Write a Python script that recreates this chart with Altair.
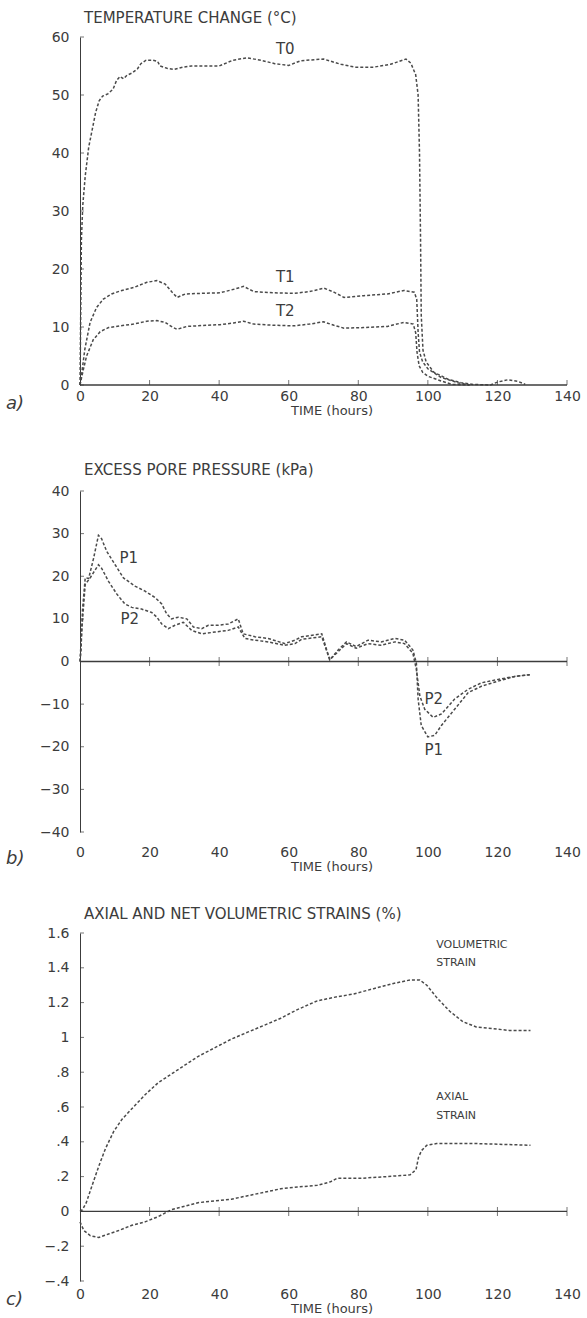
import altair as alt
import pandas as pd

FONT = "DejaVu Sans"
INK = "#3c3c3c"
LINE = "#4a4a4a"

X_TICKS = [0, 20, 40, 60, 80, 100, 120, 140]

# ---------------- panel a: temperature change ----------------
T0_x = [0, 0.2, 0.4, 0.8, 1.5, 2.5, 3.5, 4.5, 5.5, 6.5, 8, 9.5, 10.5, 11.5, 12.5, 13.5, 15, 16.5, 17.5, 19,
        21, 22.3, 23, 25, 27, 29.5, 32, 36, 40, 44, 48, 52, 56, 60, 63.4, 70, 75, 79, 84.4, 89.3, 93.7,
        95.1, 96.5, 97.2, 97.6, 97.9, 98.1, 98.6, 99.5, 101.7, 105.8, 109.5, 113, 118, 120, 123, 126, 128]
T0_y = [0, 12, 25, 31, 36, 41, 44, 47, 49, 49.8, 50.2, 51, 52.5, 53.2, 52.8, 53.4, 53.8, 54.5, 55.4, 56,
        56, 55.8, 55, 54.6, 54.4, 54.8, 55, 55, 55, 56, 56.4, 56, 55.4, 55.1, 55.9, 56.2, 55.3, 54.8, 54.8, 55.3, 56.2,
        55.5, 53.5, 50, 40, 25, 12, 6, 4, 2.2, 1, 0.4, 0.1, 0, 0.5, 0.9, 0.6, 0.1]

T1_x = [0, 0.5, 1.4, 2.9, 4.8, 6.7, 9.1, 11.5, 15.4, 19.2, 22.1, 24.5, 26.5, 27.9, 30.3, 34.6, 40.3, 44.2, 47,
        50, 55.7, 61.4, 66, 70.1, 73, 75.9, 81.6, 88.4, 93.1, 96.1, 96.8, 97.2, 97.6, 98.5, 100, 103.8, 108.6, 112]
T1_y = [0, 2, 6.2, 10.8, 13.4, 14.8, 15.7, 16.2, 16.8, 17.7, 18, 17.4, 16, 15.1, 15.7, 15.8, 15.9, 16.5, 17,
        16.1, 15.9, 15.8, 16.1, 16.7, 16, 15.1, 15.4, 15.7, 16.3, 16, 14.8, 9.1, 5.7, 4, 2.8, 1.3, 0.4, 0]

T2_x = [0, 0.9, 1.9, 3.8, 5.8, 8.2, 11.5, 15.4, 19.2, 22.1, 24.5, 26.5, 27.9, 30.7, 36.5, 40.3, 44.2, 47, 50,
        55.7, 61.4, 66, 70, 73, 75.9, 81.6, 88.4, 93.1, 95.8, 96.5, 96.9, 97.5, 98.5, 100, 103.8, 107, 112]
T2_y = [0, 2.5, 5, 7.8, 9.2, 9.9, 10.2, 10.5, 11, 11.1, 10.8, 10, 9.6, 10.1, 10.3, 10.4, 10.7, 11, 10.5,
        10.3, 10.2, 10.5, 10.9, 10.3, 9.8, 9.9, 10.1, 10.8, 10.5, 9, 5.6, 3.3, 2.2, 1.5, 0.7, 0.1, 0]

A_LABELS = ["T0", "T1", "T2"]
A_LABEL_X = [59, 59, 59]
A_LABEL_Y = [58, 18.6, 12.8]
A_YTICKS = [0, 10, 20, 30, 40, 50, 60]

# ---------------- panel b: excess pore pressure ----------------
P1_x = [0, 0.3, 0.7, 1.5, 2.5, 3.9, 5.3, 6.2, 7.7, 10.1, 12.5, 15.8, 18.7, 21.6, 23.5, 24.9, 26.3, 28.3, 30.7,
        32.6, 35, 36.9, 39.8, 42.6, 45.5, 46.9, 50.3, 54.1, 58.9, 61.8, 63.7, 69.5, 71.8, 74.2, 76.6, 79.4,
        82.8, 86.6, 90.5, 93.3, 95.7, 96.7, 97.2, 98.1, 100, 102, 103.9, 107.7, 111.6, 115.4, 120.2, 125, 129.3]
P1_y = [0, 2.7, 11.9, 19.6, 19.5, 24.2, 29.6, 28.8, 25.8, 22.7, 19.6, 17.7, 16.5, 15, 13.5, 11.2, 10, 10.4, 10,
        8.1, 7.7, 8.5, 8.5, 8.8, 10, 6.5, 5.8, 5.4, 4.2, 5, 5.8, 6.5, 0.4, 2.7, 4.6, 3.5,
        5, 4.6, 5.4, 5, 2.7, -0.4, -8.8, -15, -17.7, -17.3, -15, -11.2, -7.3, -5.8, -4.6, -3.5, -3.1]

P2_x = [0, 0.5, 1.5, 2.9, 5.3, 6.2, 8.2, 10.6, 12.9, 14.9, 17.7, 20.6, 22.1, 23.5, 25.4, 27.3, 29.7, 32.1, 35,
        38.8, 42.6, 45.5, 47.4, 50.3, 54.1, 58.9, 61.8, 63.7, 69.5, 71.8, 74.2, 76.6, 79.4, 82.8, 86.6, 90.5,
        93.3, 95.7, 96.7, 97.7, 99.1, 101.5, 103.9, 107.7, 111.6, 115.4, 120.2, 125, 129.3]
P2_y = [0, 7.3, 18.1, 19.6, 22.7, 21.9, 18.8, 15.8, 13.5, 12.7, 12.3, 11.5, 10.4, 8.8, 7.7, 8.5, 9.2, 7.3, 6.5,
        6.9, 7.3, 8.1, 5.4, 5, 4.6, 3.8, 4.2, 5.2, 5.8, 0.4, 2.3, 4.2, 3.1, 4.2, 3.8, 4.6,
        4.2, 1.9, -1.9, -8.1, -11.2, -13.1, -12.3, -8.8, -6.5, -5, -4.2, -3.5, -3.1]

B_LABELS = ["P1", "P2", "P2", "P1"]
B_LABEL_X = [14, 14.3, 101.7, 101.7]
B_LABEL_Y = [24.2, 9.9, -8.8, -20.8]
B_YTICKS = [-40, -30, -20, -10, 0, 10, 20, 30, 40]

# ---------------- panel c: strains ----------------
VOL_x = [0, 0.7, 1.8, 3.5, 5.4, 7.3, 9.7, 12.1, 14.9, 18.7, 22.5, 26.3, 30.1, 33.9, 38.7, 43.5, 48.2, 53, 57.7,
         62.5, 68.2, 73, 78.7, 84.4, 90.1, 94.9, 97.7, 99.7, 102.5, 106.3, 110.1, 113.9, 118.7, 123.4, 129.5]
VOL_y = [0, 0.01, 0.05, 0.15, 0.26, 0.36, 0.46, 0.53, 0.59, 0.67, 0.74, 0.79, 0.84, 0.89, 0.94, 0.99, 1.03, 1.07, 1.11,
         1.16, 1.21, 1.23, 1.25, 1.28, 1.31, 1.33, 1.33, 1.30, 1.23, 1.15, 1.09, 1.06, 1.05, 1.04, 1.04]

AX_x = [0, 1.1, 3, 5.4, 8.2, 11.1, 14.9, 18.7, 22.5, 26.3, 30.1, 33.9, 38.7, 43.5, 48.2, 53, 57.7, 62.5, 68.2,
        72, 73.9, 80.6, 88.2, 94.9, 96.6, 97.3, 98.2, 99.7, 102.5, 113.9, 129.5]
AX_y = [-0.06, -0.11, -0.14, -0.15, -0.13, -0.11, -0.08, -0.06, -0.03, 0.01, 0.03, 0.05, 0.06, 0.07, 0.09, 0.11, 0.13, 0.14, 0.15,
        0.17, 0.19, 0.19, 0.2, 0.21, 0.24, 0.31, 0.35, 0.38, 0.39, 0.39, 0.38]

C_LABELS = ["VOLUMETRIC", "STRAIN", "AXIAL", "STRAIN"]
C_LABEL_X = [102.4, 102.4, 102.4, 102.4]
C_LABEL_Y = [1.53, 1.43, 0.66, 0.55]
C_YTICKS = [-0.4, -0.2, 0, 0.2, 0.4, 0.6, 0.8, 1.0, 1.2, 1.4, 1.6]

W = 487


def long_df(series):
    rows = []
    for name, xs, ys in series:
        for x, y in zip(xs, ys):
            rows.append({"s": name, "x": x, "y": y})
    return pd.DataFrame(rows)


def panel(series, ydom, yticks, ylabelexpr, title, height, lab_txt, lab_x, lab_y, lab_size,
          letter, letter_dy, label_pad, title_pad, cross, title_offset):
    xs = alt.Scale(domain=[0, 140], nice=False, zero=False)
    ys = alt.Scale(domain=ydom, nice=False, zero=False)
    xaxis = alt.Axis(values=X_TICKS, domain=False, ticks=False, grid=False, labelFontSize=14,
                     labelColor=INK, labelPadding=label_pad, title="TIME (hours)", titleFontSize=13,
                     titleFontWeight="normal", titleColor=INK, titlePadding=title_pad, labelFlush=False,
                     titleX=W / 2 + 8)
    yaxis_kw = dict(values=yticks, domain=True, domainColor=INK, ticks=False, grid=False, labelFontSize=14,
                    labelColor=INK, labelPadding=11, title=None, minExtent=58, maxExtent=58)
    if ylabelexpr:
        yaxis_kw["labelExpr"] = ylabelexpr
    yaxis = alt.Axis(**yaxis_kw)

    X = alt.X("x:Q", scale=xs, axis=xaxis)
    Y = alt.Y("y:Q", scale=ys, axis=yaxis)

    lines = alt.Chart(long_df(series)).mark_line(
        color=LINE, strokeDash=[3, 2], strokeWidth=1.5
    ).encode(x=X, y=Y, detail="s:N")

    zero = alt.Chart(pd.DataFrame({"x": [0], "x2": [140], "y": [0]})).mark_rule(
        color=INK, strokeWidth=1.3
    ).encode(x=X, x2="x2:Q", y=Y)

    xt = pd.DataFrame({"x": X_TICKS[1:], "y": [0] * (len(X_TICKS) - 1)})
    if cross:
        xtick = alt.Chart(xt).mark_tick(orient="vertical", size=9, thickness=1, color=INK).encode(x=X, y=Y)
    else:
        xtick = alt.Chart(xt).mark_tick(orient="vertical", size=5, thickness=1, color=INK, yOffset=-2.5).encode(x=X, y=Y)

    yt = pd.DataFrame({"x": [0] * len(yticks), "y": yticks})
    ytick = alt.Chart(yt).mark_tick(orient="horizontal", size=4, thickness=1, color=INK, xOffset=2).encode(x=X, y=Y)

    labs = alt.Chart(pd.DataFrame({"x": lab_x, "y": lab_y, "t": lab_txt})).mark_text(
        fontSize=lab_size, color=INK, align="center" if lab_size > 12 else "left", baseline="middle"
    ).encode(x=X, y=Y, text="t:N")

    let = alt.Chart(pd.DataFrame({"t": [letter]})).mark_text(
        fontSize=18, fontStyle="italic", color=INK, align="left", baseline="middle"
    ).encode(text="t:N", x=alt.value(-74), y=alt.value(height + letter_dy))

    return alt.layer(lines, zero, xtick, ytick, labs, let).properties(
        width=W, height=height,
        title=alt.TitleParams(title, anchor="start", fontSize=15, fontWeight="normal", color=INK,
                              dx=4, offset=title_offset, frame="group"),
    )


pa = panel([("T0", T0_x, T0_y), ("T1", T1_x, T1_y), ("T2", T2_x, T2_y)], [0, 60], A_YTICKS, None,
           "TEMPERATURE CHANGE (°C)", 348, A_LABELS, A_LABEL_X, A_LABEL_Y, 15, "a)", 19, 4, 1, False, 4)
pb = panel([("P1", P1_x, P1_y), ("P2", P2_x, P2_y)], [-40, 40], B_YTICKS, None,
           "EXCESS PORE PRESSURE (kPa)", 341, B_LABELS, B_LABEL_X, B_LABEL_Y, 15, "b)", 27, 13, 1, True, 6)
pc = panel([("VOL", VOL_x, VOL_y), ("AX", AX_x, AX_y)], [-0.4, 1.6], C_YTICKS,
           "replace(format(datum.value, '.1~f'), '0.', '.')",
           "AXIAL AND NET VOLUMETRIC STRAINS (%)", 348, C_LABELS, C_LABEL_X, C_LABEL_Y, 11, "c)", 19, 6, 1, True, 4)

chart = alt.vconcat(alt.vconcat(pa, pb, spacing=46), pc, spacing=34).properties(
    padding={"left": 6, "top": 11, "right": 0, "bottom": 0}
).configure(font=FONT).configure_view(stroke=None)

chart.save("out.html", embed_options={"renderer": "svg", "actions": False})
